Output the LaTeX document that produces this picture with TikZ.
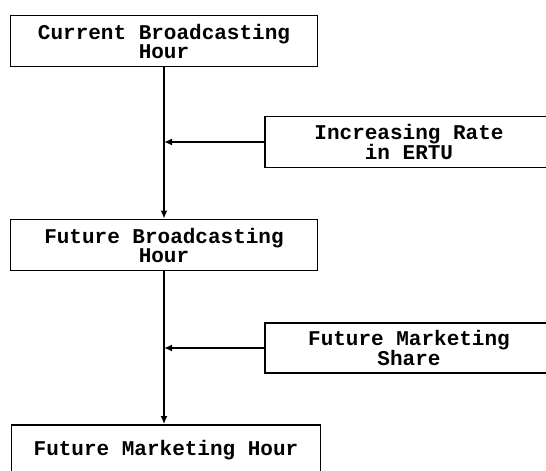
\documentclass[tikz,border=0pt]{standalone}
\usepackage{fontspec}
\usetikzlibrary{arrows.meta}
\newfontfamily\dotfont{Liberation Mono}
\tikzset{box/.style={draw, line width=1.8pt, minimum width=307pt, minimum height=51pt, inner sep=0pt, align=center, font=\dotfont\bfseries\fontsize{21}{19}\selectfont},
sidebox/.style={box, minimum width=288pt}}
\begin{document}
\begin{tikzpicture}[>={Latex[length=8pt,width=7pt]}, x=1pt, y=-1pt, line width=2pt]
\clip (0,0) rectangle (546,471);
\node[box] (cur) at (164,41) {Current Broadcasting\\Hour};
\node[box] (fut) at (164,245) {Future Broadcasting\\Hour};
\node[box, minimum width=309pt, minimum height=50pt] (mkt) at (166,450) {Future Marketing Hour};
\node[sidebox] (rate) at (409,142) {Increasing Rate\\in ERTU};
\node[sidebox, minimum height=50pt] (share) at (409,348) {Future Marketing\\Share};
\coordinate (j1) at (rate.west -| cur.south);
\coordinate (j2) at (share.west -| cur.south);
\draw[->] (cur.south) -- (cur.south |- fut.north);
\draw[->] (rate.west) -- (j1);
\draw[->] (fut.south -| cur.south) -- (cur.south |- mkt.north);
\draw[->] (share.west) -- (j2);
\end{tikzpicture}
\end{document}
